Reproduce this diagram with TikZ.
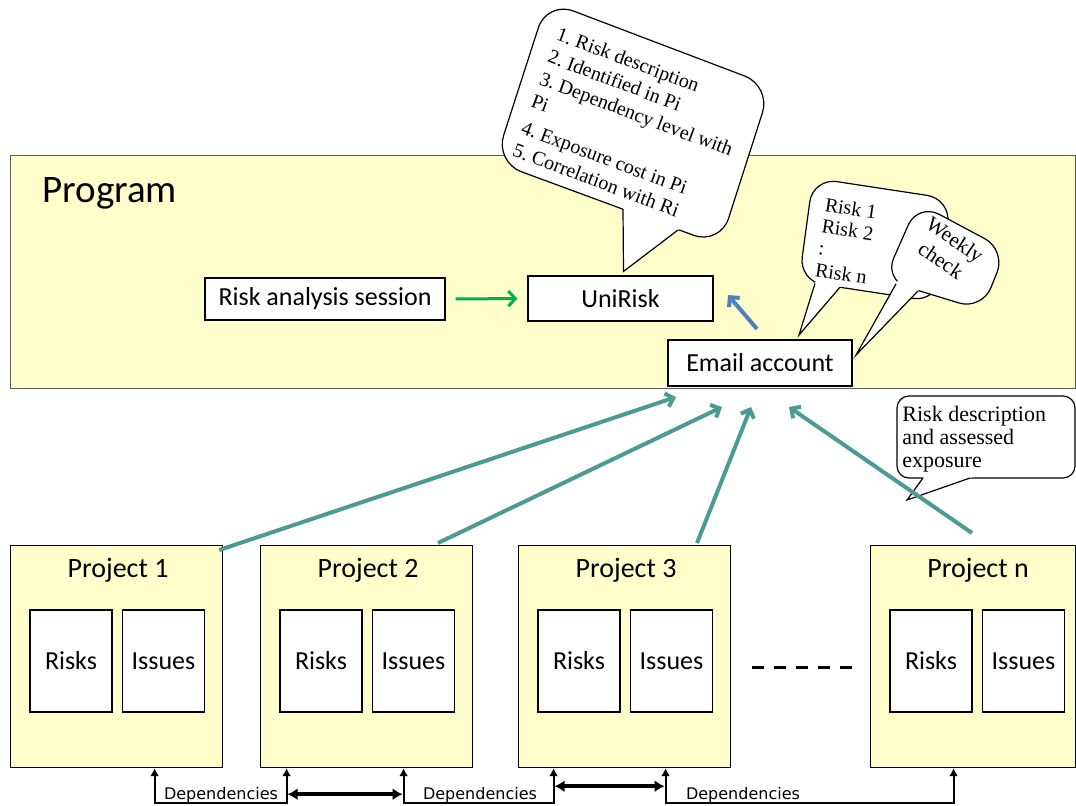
\documentclass[tikz,border=0pt]{standalone}
\usepackage{fontspec}
\setmainfont{Carlito}
\newfontfamily\notefont{Liberation Serif}
\newfontfamily\depfont{DejaVu Sans}
\usetikzlibrary{arrows.meta,calc}

\definecolor{paper}{RGB}{255,255,204}
\definecolor{feedteal}{RGB}{75,155,148}
\definecolor{flowgreen}{RGB}{0,176,80}
\definecolor{linkblue}{RGB}{79,129,189}

\begin{document}
\begin{tikzpicture}[x=0.5pt, y=-0.5pt,
	box/.style={draw, fill=white, line width=0.6pt, font=\fontsize{13}{15}\selectfont},
	proj/.style={draw, fill=paper, line width=0.6pt, anchor=north west, minimum height=111pt},
	cell/.style={box, minimum width=41pt, minimum height=51pt},
	bubble/.style={draw, fill=white, line width=0.6pt, rounded corners=#1},
	bubble/.default=10pt,
	note/.style={inner sep=0pt, align=left, font=\notefont\frenchspacing\fontsize{10}{11}\selectfont},
	feed/.style={draw=feedteal, line width=2pt, -{Straight Barb[length=3.5pt,width=7pt]}},
	dep/.style={line width=1pt, {Latex[length=4pt,width=4.5pt]}-{Latex[length=4pt,width=4.5pt]}},
	exch/.style={line width=1.8pt, {Latex[length=5pt,width=6pt]}-{Latex[length=5pt,width=6pt]}},
	deplabel/.style={inner sep=0pt, font=\depfont\fontsize{8}{9}\selectfont},
]
	\useasboundingbox (0,0) rectangle (1076,805);

	% program
	\node[draw=black!65, fill=paper, line width=0.5pt, anchor=north west,
		minimum width=532.5pt, minimum height=116.5pt] (prog) at (10,155) {};
	\node[anchor=west, inner sep=0pt, font=\fontsize{19.5}{22}\selectfont] (progtitle) at (42,193) {Program};

	\node[box, minimum width=120pt, minimum height=21pt] (ras) at (325,299) {Risk analysis session};
	\node[box, minimum width=92.5pt, minimum height=22.5pt] (uni) at (620.5,298.5) {UniRisk};
	\node[box, line width=1pt, minimum width=92pt, minimum height=23pt] (mail) at (760,363) {Email account};

	\draw[flowgreen, line width=1.5pt, -{Straight Barb[length=3.5pt,width=7.5pt]},
		shorten <=5pt, shorten >=5pt] (ras.east) -- (uni.west);
	\coordinate (uniside) at (728,295);
	\draw[linkblue, line width=2pt, -{Straight Barb[length=3.5pt,width=7pt]}]
		([shift={(-3,-10)}]mail.north) -- (uniside);

	% projects
	\foreach \n/\x/\w/\t in {p1/10/106/1, p2/260/106/2, p3/518/106/3, pn/870/102.5/n} {
		\node[proj, minimum width=\w pt] (\n) at (\x,545) {};
		\node[font=\fontsize{14}{16}\selectfont] (\n-t) at ($(\n.north west)+(108,25)$) {Project \t};
		\node[cell] (\n-r) at ($(\n.north west)+(61,116)$) {Risks};
		\node[cell] (\n-i) at ($(\n.north west)+(153.5,116)$) {Issues};
	}
	\draw[line width=1.5pt, dash pattern=on 6pt off 5pt] (752,667) -- (856,667);

	% dependencies
	\draw[dep] ([xshift=19pt]p1.south) -- ++(0,35) -| ([xshift=-40pt]p2.south);
	\draw[dep] ([xshift=18.5pt]p2.south) -- ++(0,35) -| ([xshift=-35.5pt]p3.south);
	\draw[dep] ([xshift=20.5pt]p3.south) -- ++(0,35) -| ([xshift=-9.75pt]pn.south);
	\draw[exch] ([shift={(-79,26)}]p2.south) -- ([shift={(36,26)}]p2.south);
	\draw[exch] ([shift={(-70,18)}]p3.south) -- ([shift={(40,18)}]p3.south);
	\node[deplabel] (dep1) at (221,795) {Dependencies};
	\node[deplabel] (dep2) at (480,795) {Dependencies};
	\node[deplabel] (dep3) at (743,795) {Dependencies};

	% callouts
	\filldraw[bubble=14pt] (547,1) -- (771,86) -- (720,245) -- (495,162) -- cycle;
	\coordinate (uk1) at (623,209);
	\coordinate (uk2) at (678,230);
	\coordinate (uktip) at ([shift={(3,-4)}]uni.north);
	\fill[white] ($(uk1)!-0.1!(uktip)$) -- (uktip) -- ($(uk2)!-0.1!(uktip)$) -- cycle;
	\draw[line width=0.6pt] (uk1) -- (uktip) -- (uk2);

	\filldraw[bubble=12pt] (813,178) -- (951,199) -- (937,302) -- (799,281) -- cycle;
	\coordinate (rl1) at (815,283.4);
	\coordinate (rl2) at (840,287.2);
	\coordinate (rltip) at ([shift={(132,-4)}]mail.north west);
	\fill[white] ($(rl1)!-0.1!(rltip)$) -- (rltip) -- ($(rl2)!-0.1!(rltip)$) -- cycle;
	\draw[line width=0.6pt] (rl1) -- (rltip) -- (rl2);

	\filldraw[bubble=12pt] (918,203) -- (1006,250) -- (982,310) -- (884,280) -- cycle;
	\coordinate (wk1) at (896,284);
	\coordinate (wk2) at (918,291);
	\coordinate (wktip) at ([shift={(3,-8)}]mail.east);
	\fill[white] ($(wk1)!-0.1!(wktip)$) -- (wktip) -- ($(wk2)!-0.1!(wktip)$) -- cycle;
	\draw[line width=0.6pt] (wk1) -- (wktip) -- (wk2);

	\filldraw[bubble=6pt] (897,396) rectangle (1075,478);
	\coordinate (in1) at (923,478);
	\coordinate (in2) at (970,478);
	\coordinate (intip) at (907,500);
	\fill[white] ($(in1)!-0.1!(intip)$) -- (intip) -- ($(in2)!-0.1!(intip)$) -- cycle;
	\draw[line width=0.6pt] (in1) -- (intip) -- (in2);

	\node[note, rotate=-20.6, anchor=north west, font=\notefont\frenchspacing\fontsize{10}{12}\selectfont] (ukfacts)
		at (560,26) {1. Risk description\\2. Identified in Pi\\3. Dependency level with\\Pi\\[2pt]4. Exposure cost in Pi\\5. Correlation with Ri};
	\node[note, rotate=-8.5, anchor=north west] (risklist) at (826,197) {Risk 1\\Risk 2\\:\\Risk n};
	\node[note, rotate=-34, align=center, font=\notefont\fontsize{10.5}{12.5}\selectfont] (weekly)
		at (948,250) {Weekly\\check};
	\node[note, anchor=north west, font=\notefont\fontsize{11}{11.5}\selectfont] (infotext)
		at (902,406) {Risk description\\and assessed\\exposure};

	% feeds to email
	\coordinate (e1) at (676,397);
	\coordinate (e2) at (722,407);
	\coordinate (e3) at (751,407);
	\coordinate (e4) at (789,407);
	\draw[feed] ([shift={(-4,5)}]p1.north east) -- (e1);
	\draw[feed] ([shift={(178,-2)}]p2.north west) -- (e2);
	\draw[feed] ([shift={(179,-2)}]p3.north west) -- (e3);
	\draw[feed] ([shift={(102,-12)}]pn.north west) -- (e4);
\end{tikzpicture}
\end{document}
